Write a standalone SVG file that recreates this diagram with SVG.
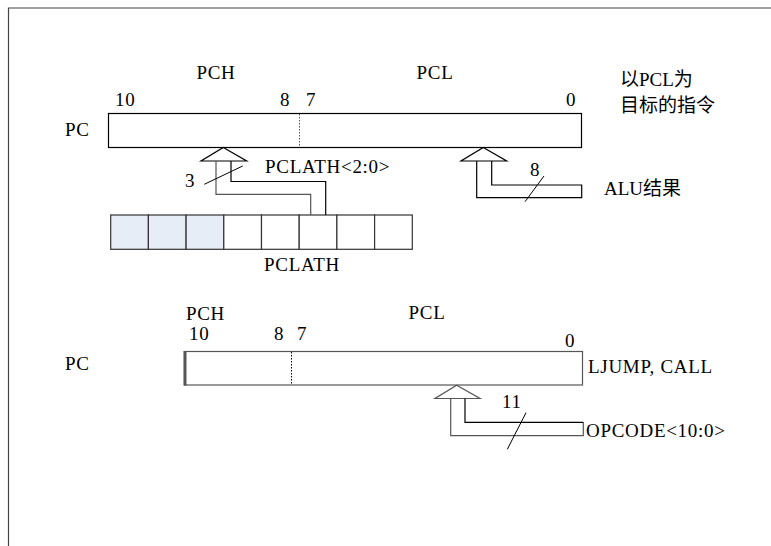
<svg xmlns="http://www.w3.org/2000/svg" width="771" height="546" viewBox="0 0 771 546">
<style>
text{font-family:"Liberation Serif","Noto Sans CJK SC",serif;font-size:19px;letter-spacing:0.7px;fill:#000}
.cjk{font-family:"Liberation Serif","Noto Sans CJK SC",serif;font-size:19px;letter-spacing:0}
.mid{text-anchor:middle}
.blk{fill:none;stroke:#000;stroke-width:1.2}
.gry{fill:none;stroke:#555;stroke-width:1.2}
.dot{stroke:#555;stroke-width:1;stroke-dasharray:1.5 1.5}
.cell{stroke:#333;stroke-width:1.2}
</style>
<g id="frame"><path d="M8.5 546 V8 H771" fill="none" stroke="#444" stroke-width="1.2"/></g>

<g id="pc-top">
<rect x="108.5" y="113.5" width="473" height="34" class="blk" fill="#fff"/>
<line x1="299.5" y1="114" x2="299.5" y2="147" class="dot"/>
<text x="65" y="136">PC</text>
<text x="216" y="79" class="mid">PCH</text>
<text x="435" y="79" class="mid">PCL</text>
<text x="115" y="106">10</text>
<text x="280" y="106">8</text>
<text x="306" y="106">7</text>
<text x="566" y="106">0</text>
</g>
<g id="note-top">
<text x="620" y="86" class="cjk">以PCL为</text>
<text x="620" y="112" class="cjk">目标的指令</text>
</g>

<g id="pclath">
<rect x="110.7" y="215" width="37.7" height="34.3" class="cell" fill="#e7edf6"/>
<rect x="148.4" y="215" width="37.7" height="34.3" class="cell" fill="#e7edf6"/>
<rect x="186.1" y="215" width="37.7" height="34.3" class="cell" fill="#e7edf6"/>
<rect x="223.8" y="215" width="37.7" height="34.3" class="cell" fill="#fff"/>
<rect x="261.5" y="215" width="37.7" height="34.3" class="cell" fill="#fff"/>
<rect x="299.2" y="215" width="37.7" height="34.3" class="cell" fill="#fff"/>
<rect x="336.9" y="215" width="37.7" height="34.3" class="cell" fill="#fff"/>
<rect x="374.6" y="215" width="37.7" height="34.3" class="cell" fill="#fff"/>
<text x="302" y="271" class="mid">PCLATH</text>
</g>

<g id="alu">
<text x="604" y="195" class="cjk">ALU结果</text>
</g>

<g id="pc-bottom">
<rect x="184.5" y="351.5" width="398" height="33.5" class="gry" fill="#fff"/>
<line x1="185" y1="351" x2="185" y2="385.5" stroke="#555" stroke-width="3"/>
<line x1="291.5" y1="352" x2="291.5" y2="385" stroke="#000" stroke-width="1" stroke-dasharray="1.5 1.5"/>
<text x="65" y="370">PC</text>
<text x="205.5" y="320" class="mid">PCH</text>
<text x="427" y="319" class="mid">PCL</text>
<text x="189" y="340">10</text>
<text x="274" y="340">8</text>
<text x="297" y="340">7</text>
<text x="565" y="347">0</text>
<text x="588" y="373">LJUMP, CALL</text>
</g>

<g id="opcode">
<text x="586" y="437">OPCODE&lt;10:0&gt;</text>
</g>

<g id="connectors">
<polygon points="223.3,147.5 246.7,161 201,161" class="blk" fill="#fff"/>
<path d="M216 161 V194.3 H310.7 V215" class="gry"/>
<path d="M231 161 V181.5 H325.7 V215" class="blk"/>
<line x1="204.3" y1="184.3" x2="242.7" y2="166" stroke="#000" stroke-width="1"/>
<text x="185" y="187">3</text>
<text x="265" y="173">PCLATH&lt;2:0&gt;</text>

<polygon points="483.3,147.5 506.7,161 461,161" class="blk" fill="#fff"/>
<path d="M476.7 161 V197.7 H581.7 V185 H491.7 V161" class="blk"/>
<line x1="525" y1="201.7" x2="544" y2="176" stroke="#000" stroke-width="1"/>
<text x="530" y="176">8</text>

<polygon points="456.7,385.3 480,398.5 435,398.5" class="gry" fill="#fff"/>
<path d="M450.7 398.5 V435.7 H583.3 V422.3" class="gry"/>
<path d="M465 398.5 V422.3 H583.3" class="blk"/>
<line x1="507.3" y1="449.3" x2="526" y2="412.7" stroke="#000" stroke-width="1"/>
<text x="502" y="408">11</text>
</g>
</svg>
